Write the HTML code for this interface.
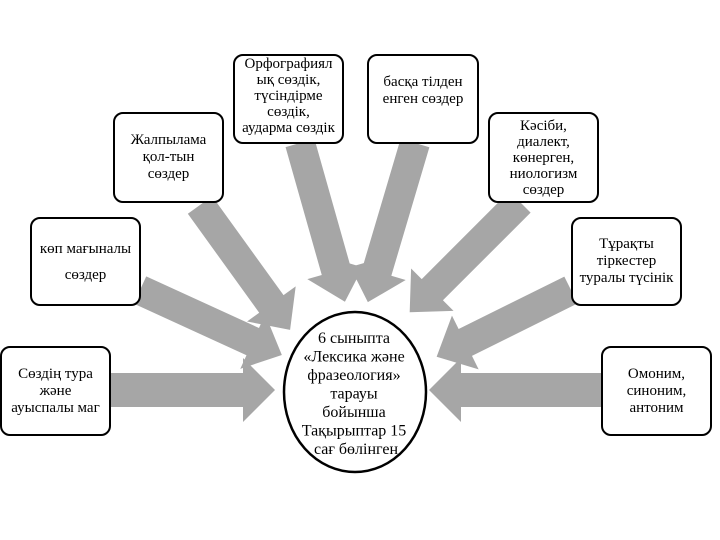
<!DOCTYPE html>
<html><head><meta charset="utf-8"><style>
body{margin:0;width:720px;height:540px;background:#fff;position:relative;overflow:hidden;font-family:"Liberation Serif",serif;}
.b{position:absolute;box-sizing:border-box;border:2.5px solid #000;border-radius:10px;background:#fff;display:flex;align-items:center;justify-content:center;text-align:center;font-size:15px;line-height:17px;color:#000;}
svg{position:absolute;left:0;top:0}
</style></head><body>
<svg width="720" height="540">
<g fill="#a6a6a6">
<g transform="translate(200,205) rotate(54.2)"><polygon points="0,-15 122,-15 122,-30 154,0 122,30 122,15 0,15"/></g>
<g transform="translate(300,143) rotate(74.2)"><polygon points="0,-15 133,-15 133,-30 165,0 133,30 133,15 0,15"/></g>
<g transform="translate(415,143) rotate(106.5)"><polygon points="0,-15 134,-15 134,-30 166,0 134,30 134,15 0,15"/></g>
<g transform="translate(520,202) rotate(135)"><polygon points="0,-15 124,-15 124,-30 156,0 124,30 124,15 0,15"/></g>
<g transform="translate(140,290) rotate(24.6)"><polygon points="0,-15 124,-15 124,-30 156,0 124,30 124,15 0,15"/></g>
<g transform="translate(571,290) rotate(153.6)"><polygon points="0,-15 118,-15 118,-30 150,0 118,30 118,15 0,15"/></g>
<g transform="translate(111,390)"><polygon points="0,-17 132,-17 132,-32 164,0 132,32 132,17 0,17"/></g>
<g transform="translate(601,390) rotate(180)"><polygon points="0,-17 140,-17 140,-32 172,0 140,32 140,17 0,17"/></g>
</g>
<ellipse cx="355" cy="392" rx="71" ry="80" fill="#fff" stroke="#000" stroke-width="2.5"/>
<text font-family="Liberation Serif, serif" font-size="16" text-anchor="middle" fill="#000">
<tspan x="356" y="343">6 сыныпта</tspan>
<tspan x="356" y="361.5">«Лексика және</tspan>
<tspan x="356" y="380">фразеология»</tspan>
<tspan x="356" y="398.5">тарауы</tspan>
<tspan x="356" y="417">бойынша</tspan>
<tspan x="356" y="435.5">Тақырыптар 15</tspan>
<tspan x="356" y="454">сағ бөлінген</tspan>
</text>
</svg>
<div class="b" style="left:113px;top:112px;width:111px;height:91px">Жалпылама<br>қол-тын<br>сөздер</div>
<div class="b" style="left:233px;top:54px;width:111px;height:90px;align-items:flex-start;line-height:16px;padding-top:0px">Орфографиял<br>ық сөздік,<br>түсіндірме<br>сөздік,<br>аударма сөздік</div>
<div class="b" style="left:367px;top:54px;width:112px;height:90px;align-items:flex-start;padding-top:18px">басқа тілден<br>енген сөздер</div>
<div class="b" style="left:488px;top:112px;width:111px;height:91px;line-height:16px">Кәсіби,<br>диалект,<br>көнерген,<br>ниологизм<br>сөздер</div>
<div class="b" style="left:30px;top:217px;width:111px;height:89px;line-height:26px">көп мағыналы<br>сөздер</div>
<div class="b" style="left:571px;top:217px;width:111px;height:89px">Тұрақты<br>тіркестер<br>туралы түсінік</div>
<div class="b" style="left:0px;top:346px;width:111px;height:90px">Сөздің тура<br>және<br>ауыспалы маг</div>
<div class="b" style="left:601px;top:346px;width:111px;height:90px">Омоним,<br>синоним,<br>антоним</div>
</body></html>
